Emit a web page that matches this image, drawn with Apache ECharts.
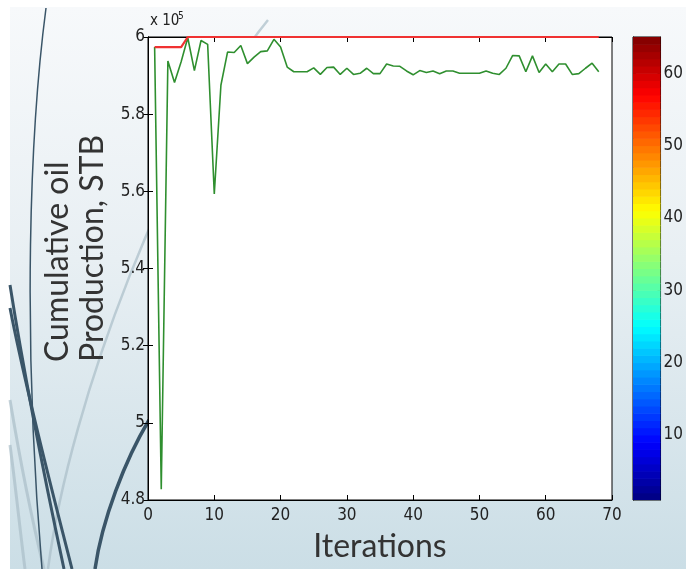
<!DOCTYPE html>
<html><head><meta charset="utf-8">
<script src="https://cdn.jsdelivr.net/npm/echarts@6/dist/echarts.min.js"></script>
<style>html,body{margin:0;padding:0;background:#fff;}#c{width:686px;height:569px;}</style>
</head><body><div id="c"></div>
<script>
// ---- data (values in units of 1e5 STB) ----
const iterations = [1,2,3,4,5,6,7,8,9,10,11,12,13,14,15,16,17,18,19,20,21,22,23,24,25,26,27,28,29,30,31,32,33,34,35,36,37,38,39,40,41,42,43,44,45,46,47,48,49,50,51,52,53,54,55,56,57,58,59,60,61,62,63,64,65,66,67,68];
const bestValues = [5.974,5.974,5.974,5.974,5.974,6.0,6.0,6.0,6.0,6.0,6.0,6.0,6.0,6.0,6.0,6.0,6.0,6.0,6.0,6.0,6.0,6.0,6.0,6.0,6.0,6.0,6.0,6.0,6.0,6.0,6.0,6.0,6.0,6.0,6.0,6.0,6.0,6.0,6.0,6.0,6.0,6.0,6.0,6.0,6.0,6.0,6.0,6.0,6.0,6.0,6.0,6.0,6.0,6.0,6.0,6.0,6.0,6.0,6.0,6.0,6.0,6.0,6.0,6.0,6.0,6.0,6.0,6.0];
const currentValues = [5.974,4.828,5.938,5.882,5.936,5.998,5.913,5.991,5.981,5.593,5.875,5.961,5.960,5.978,5.931,5.948,5.962,5.964,5.994,5.974,5.922,5.910,5.910,5.910,5.920,5.903,5.921,5.922,5.903,5.919,5.903,5.906,5.919,5.905,5.905,5.930,5.925,5.924,5.912,5.902,5.913,5.908,5.912,5.905,5.912,5.912,5.906,5.906,5.906,5.906,5.912,5.906,5.903,5.919,5.952,5.951,5.910,5.951,5.908,5.930,5.910,5.930,5.930,5.903,5.905,5.919,5.932,5.910];
const xTickStep = 10, xMin = 0, xMax = 70;
const yTickStep = 0.2, yMin = 4.8, yMax = 6.0;
const colorbarTicks = [10,20,30,40,50,60];
const colorbarMin = 1, colorbarMax = 65;
const colorLevels = [1,2,3,4,5,6,7,8,9,10,11,12,13,14,15,16,17,18,19,20,21,22,23,24,25,26,27,28,29,30,31,32,33,34,35,36,37,38,39,40,41,42,43,44,45,46,47,48,49,50,51,52,53,54,55,56,57,58,59,60,61,62,63,64];

function jet(level){
  const t = (level - colorbarMin + 0.5) / (colorbarMax - colorbarMin);
  const c = x => Math.round(255 * Math.max(0, Math.min(1, 1.5 - Math.abs(4 * t - x))));
  return 'rgb(' + c(3) + ',' + c(2) + ',' + c(1) + ')';
}

const tickFont = '"Liberation Sans Narrow","DejaVu Sans Condensed",sans-serif';
const labelFont = 'Lato,"Open Sans",sans-serif';
const dark = '#3a5568';
const light = 'rgba(170,190,200,0.7)';

const chart = echarts.init(document.getElementById('c'));
const axisTickStyle = {show:true, inside:true, length:5, lineStyle:{color:'#000', width:1}};
const axisLineStyle = {show:true, lineStyle:{color:'#000', width:1}};

const option = {
  animation:false,
  backgroundColor:'#ffffff',
  graphic:[
    {type:'rect', z:-10, silent:true, shape:{x:10,y:7,width:676,height:562},
     style:{fill:new echarts.graphic.LinearGradient(0,0,0,1,[{offset:0,color:'#f7f9fb'},{offset:0.45,color:'#e8eff3'},{offset:1,color:'#cbdee6'}])}},
    {type:'bezierCurve', z:-9, silent:true, shape:{x1:268,y1:20,cpx1:170,cpy1:140,cpx2:70,cpy2:400,x2:48,y2:569}, style:{stroke:light,lineWidth:2.5,fill:null}},
    {type:'bezierCurve', z:-9, silent:true, shape:{x1:10,y1:400,cpx1:20,cpy1:460,cpx2:32,cpy2:520,x2:44,y2:569}, style:{stroke:light,lineWidth:3,fill:null}},
    {type:'bezierCurve', z:-9, silent:true, shape:{x1:10,y1:445,cpx1:16,cpy1:490,cpx2:20,cpy2:530,x2:25,y2:569}, style:{stroke:light,lineWidth:3,fill:null}},
    {type:'bezierCurve', z:-8, silent:true, shape:{x1:46,y1:8,cpx1:30,cpy1:130,cpx2:22,cpy2:330,x2:42,y2:569}, style:{stroke:dark,lineWidth:1.5,fill:null}},
    {type:'bezierCurve', z:-8, silent:true, shape:{x1:10,y1:285,cpx1:25,cpy1:380,cpx2:45,cpy2:480,x2:64,y2:569}, style:{stroke:dark,lineWidth:3,fill:null}},
    {type:'bezierCurve', z:-8, silent:true, shape:{x1:10,y1:308,cpx1:28,cpy1:400,cpx2:52,cpy2:490,x2:72,y2:569}, style:{stroke:dark,lineWidth:3,fill:null}},
    {type:'bezierCurve', z:-8, silent:true, shape:{x1:149,y1:420,cpx1:125,cpy1:460,cpx2:102,cpy2:520,x2:95,y2:569}, style:{stroke:dark,lineWidth:3.5,fill:null}},
    {type:'text', z:10, x:75, y:362, rotation:Math.PI/2,
     style:{text:'Cumulative oil\nProduction, STB', fontFamily:labelFont, fontSize:32, lineHeight:35, fill:'#333', align:'left', verticalAlign:'middle'}},
    {type:'text', z:10, x:150, y:29, style:{text:'x 10', fontFamily:tickFont, fontSize:15, fill:'#222', align:'left', verticalAlign:'bottom'}},
    {type:'text', z:10, x:178, y:21, style:{text:'5', fontFamily:tickFont, fontSize:10, fill:'#222', align:'left', verticalAlign:'bottom'}}
  ],
  grid:[
    {left:148, top:37, width:464, height:463, show:true, backgroundColor:'#ffffff', borderColor:'#000', borderWidth:1},
    {left:633, top:37, width:31, height:463, show:true, backgroundColor:'transparent', borderColor:'#000', borderWidth:1}
  ],
  xAxis:[
    {type:'value', gridIndex:0, position:'bottom', min:xMin, max:xMax, interval:xTickStep,
     axisLine:axisLineStyle, axisTick:axisTickStyle, splitLine:{show:false},
     axisLabel:{fontFamily:tickFont, fontSize:17, color:'#222', margin:7},
     name:'Iterations', nameLocation:'middle', nameGap:31,
     nameTextStyle:{fontFamily:labelFont, fontSize:32, color:'#333'}},
    {type:'value', gridIndex:0, position:'top', min:xMin, max:xMax, interval:xTickStep,
     axisLine:axisLineStyle, axisTick:axisTickStyle, splitLine:{show:false}, axisLabel:{show:false}},
    {type:'value', gridIndex:1, min:0, max:1, show:false}
  ],
  yAxis:[
    {type:'value', gridIndex:0, position:'left', min:yMin, max:yMax, interval:yTickStep,
     axisLine:axisLineStyle, axisTick:axisTickStyle, splitLine:{show:false},
     axisLabel:{fontFamily:tickFont, fontSize:17, color:'#222', margin:3,
       formatter:v => String(Math.round(v*10)/10)}},
    {type:'value', gridIndex:0, position:'right', min:yMin, max:yMax, interval:yTickStep,
     axisLine:axisLineStyle, axisTick:axisTickStyle, splitLine:{show:false}, axisLabel:{show:false}},
    {type:'value', gridIndex:1, position:'left', min:colorbarMin, max:colorbarMax,
     axisLine:axisLineStyle, splitLine:{show:false}, axisLabel:{show:false},
     axisTick:{show:true, inside:true, length:3, lineStyle:{color:'#000'}, customValues:colorbarTicks}},
    {type:'value', gridIndex:1, position:'right', min:colorbarMin, max:colorbarMax,
     axisLine:axisLineStyle, splitLine:{show:false},
     axisTick:{show:true, inside:true, length:3, lineStyle:{color:'#000'}, customValues:colorbarTicks},
     axisLabel:{show:true, fontFamily:tickFont, fontSize:17, color:'#222', margin:3, customValues:colorbarTicks}}
  ],
  series:[
    {type:'line', xAxisIndex:0, yAxisIndex:0, data:iterations.map((x,i)=>[x,currentValues[i]]),
     showSymbol:false, lineStyle:{color:'#2f8f2f', width:1.6}, z:3},
    {type:'line', xAxisIndex:0, yAxisIndex:0, data:iterations.map((x,i)=>[x,bestValues[i]]),
     showSymbol:false, clip:false, lineStyle:{color:'#f03232', width:2.2}, z:4},
    {type:'custom', xAxisIndex:2, yAxisIndex:2, data:colorLevels.map(l=>[0,l]), encode:{x:0,y:1}, clip:true, z:1,
     renderItem:function(params, api){
       const lvl = api.value(1);
       const p0 = api.coord([0, lvl]);
       const p1 = api.coord([1, lvl + 1]);
       return {type:'rect', shape:{x:p0[0], y:p1[1], width:p1[0]-p0[0], height:p0[1]-p1[1]+0.6}, style:{fill:jet(lvl)}};
     }}
  ]
};
chart.setOption(option);
</script></body></html>
